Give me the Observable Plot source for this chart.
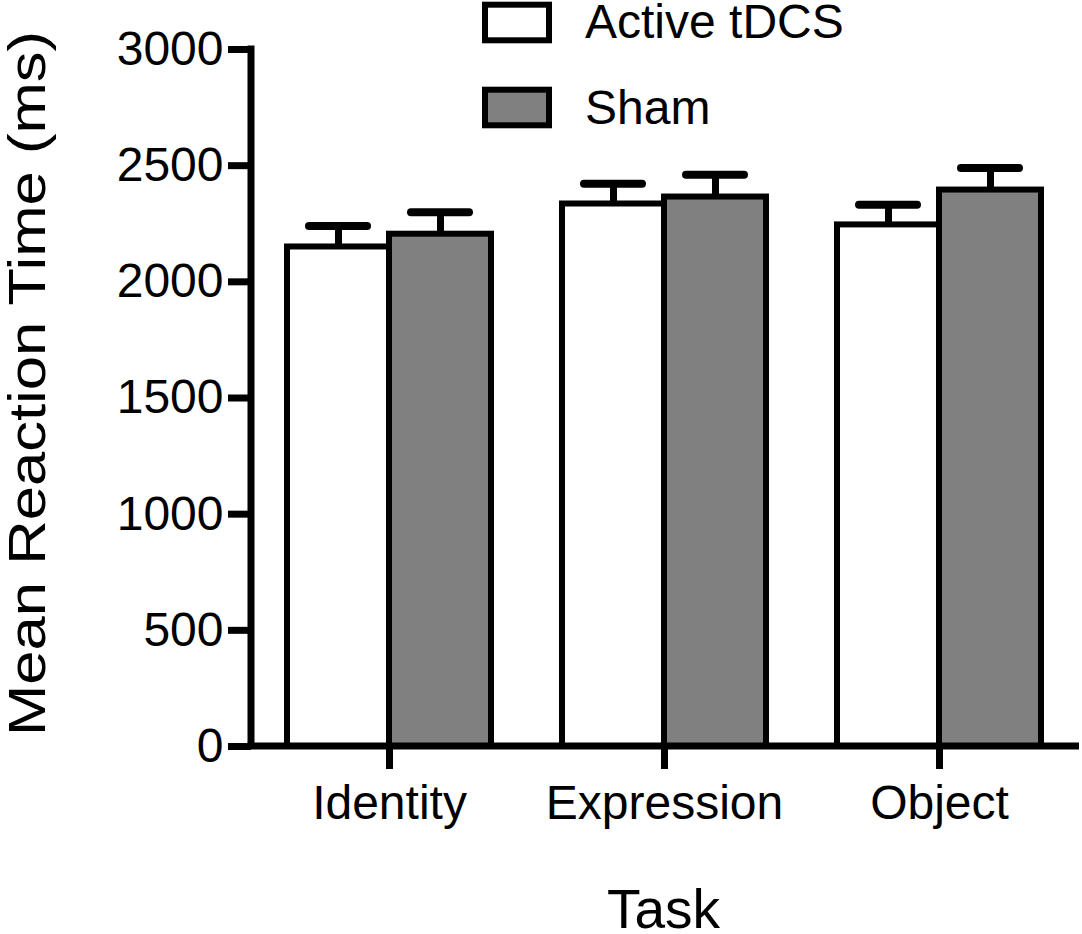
<!DOCTYPE html>
<html><head><meta charset="utf-8">
<script src="https://cdn.jsdelivr.net/npm/d3@7"></script>
<script src="https://cdn.jsdelivr.net/npm/@observablehq/plot@0.6"></script>
<style>body{margin:0;background:#fff;} #chart{width:1082px;height:934px;}</style>
</head><body><div id="chart"></div>
<script>
const tasks = ["Identity", "Expression", "Object"];
const conditions = ["Active tDCS", "Sham"];
const activeMeans = [2150, 2335, 2245];
const activeSEM = [90, 87, 87];
const shamMeans = [2205, 2365, 2395];
const shamSEM = [95, 96, 95];
const yTicks = [0, 500, 1000, 1500, 2000, 2500, 3000];
const yTitle = "Mean Reaction Time (ms)";
const xTitle = "Task";
const fills = ["white", "#808080"];

const rows = [];
tasks.forEach((t, i) => {
  rows.push({task: t, condition: conditions[0], mean: activeMeans[i], upper: activeMeans[i] + activeSEM[i]});
  rows.push({task: t, condition: conditions[1], mean: shamMeans[i], upper: shamMeans[i] + shamSEM[i]});
});

const W = 1082, H = 934, mL = 251, mR = 6, mT = 49, mB = 188;
const font = "'Liberation Sans', Arial, Helvetica, sans-serif";

function build(axisOffset) {
  return Plot.plot({
    width: W, height: H,
    marginLeft: mL, marginRight: mR, marginTop: mT, marginBottom: mB,
    style: {fontFamily: font, background: "white", color: "black"},
    fx: {domain: tasks, paddingInner: 0.26, paddingOuter: 0.13, label: null},
    x: {domain: conditions, padding: 0, axis: null},
    y: {domain: [0, 3000]},
    color: {domain: conditions, range: fills},
    marks: [
      Plot.ruleX(rows, {fx: "task", x: "condition", y1: "mean", y2: "upper", stroke: "black", strokeWidth: 7}),
      Plot.barY(rows, {fx: "task", x: "condition", y: "mean", fill: "condition", stroke: "black", strokeWidth: 6}),
      Plot.tickY(rows, {fx: "task", x: "condition", y: "upper", stroke: "black", strokeWidth: 8, strokeLinecap: "round", insetLeft: 22, insetRight: 22}),
      Plot.axisY({ticks: yTicks, tickFormat: (d) => String(d), tickSize: 23, tickPadding: 5, fontSize: 48, strokeWidth: 7, label: null, dx: -axisOffset}),
      Plot.axisFx({anchor: "bottom", tickSize: 23, tickPadding: 15, fontSize: 48, strokeWidth: 7, label: null})
    ]
  });
}

// the y axis is attached to the first facet; shift it back to the plot's left edge
const probe = build(0);
const offset = probe.scale("fx").apply(tasks[0]) - mL;
const chart = build(offset);

document.getElementById("chart").appendChild(chart);

const svg = d3.select(chart);
const y = chart.scale("y");
const y0 = y.apply(0), yTop = y.apply(yTicks[yTicks.length - 1]);

// axis lines
svg.append("line").attr("x1", mL).attr("x2", mL).attr("y1", yTop - 3.5).attr("y2", y0)
  .attr("stroke", "black").attr("stroke-width", 7);
svg.append("line").attr("x1", mL - 3.5).attr("x2", W - 3).attr("y1", y0).attr("y2", y0)
  .attr("stroke", "black").attr("stroke-width", 7);

// titles
svg.append("text").text(yTitle)
  .attr("transform", "translate(45,383.5) rotate(-90)")
  .attr("text-anchor", "middle").attr("font-size", 52).attr("font-family", font)
  .attr("textLength", 705).attr("lengthAdjust", "spacingAndGlyphs").attr("fill", "black");
svg.append("text").text(xTitle)
  .attr("x", (mL + W - mR) / 2).attr("y", 928)
  .attr("text-anchor", "middle").attr("font-size", 55).attr("font-family", font).attr("fill", "black");

// legend
const lg = svg.append("g");
conditions.forEach((c, i) => {
  lg.append("rect").attr("x", 485).attr("y", 4.7 + i * 85).attr("width", 64).attr("height", 35.6)
    .attr("fill", fills[i]).attr("stroke", "black").attr("stroke-width", 6);
  lg.append("text").text(c).attr("x", 585).attr("y", 38 + i * 86)
    .attr("text-anchor", "start")
    .attr("font-size", 48).attr("font-family", font).attr("fill", "black");
});
</script>
</body></html>
